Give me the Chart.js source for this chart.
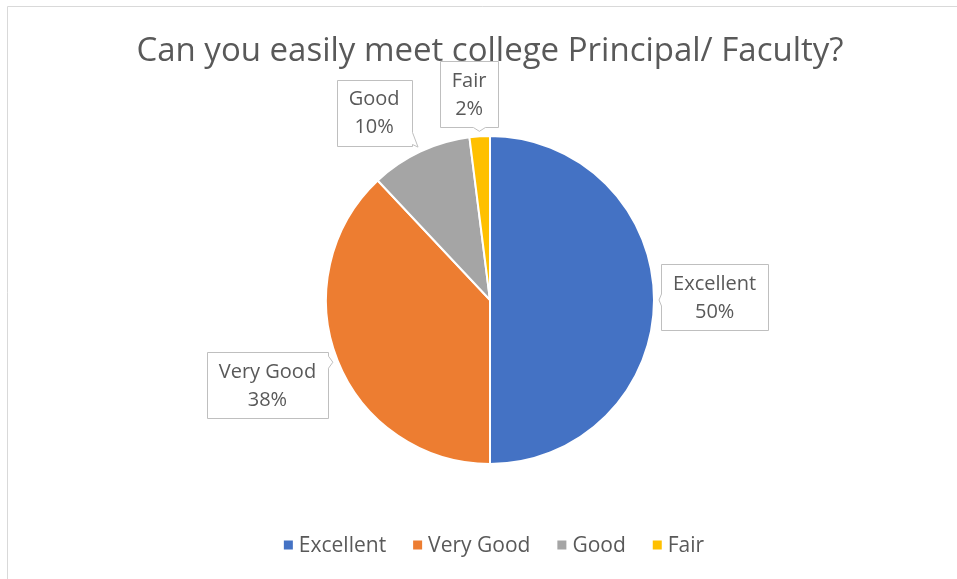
<!DOCTYPE html>
<html>
<head>
<meta charset="utf-8">
<script src="https://cdn.jsdelivr.net/npm/chart.js@4.4.0/dist/chart.umd.min.js"></script>
<style>
  html, body { margin: 0; padding: 0; background: #fff; }
  #wrap { width: 957px; height: 579px; }
</style>
</head>
<body>
<div id="wrap"><canvas id="pieChart" width="957" height="579"></canvas></div>
<script>
const categories = ["Excellent", "Very Good", "Good", "Fair"];
const shares = [50, 38, 10, 2];
const sliceColors = ["#4472C4", "#ED7D31", "#A5A5A5", "#FFC000"];

// where each callout box sits: distance along the slice mid-angle (x radius) and a small nudge
const calloutDist = [1.37, 1.44, 1.33, 1.25];
const calloutShift = [[0, -3], [-3, -2], [-23, 10], [-8, -1]];

const textGray = "#595959";
const fontFamily = "'Open Sans', Lato, sans-serif";

function clamp(v, lo, hi) { return Math.max(lo, Math.min(hi, v)); }

function drawCallout(ctx, b, tip) {
  const half = 6;
  const cx = (b.l + b.r) / 2, cy = (b.t + b.b) / 2;
  const dx = tip.x - cx, dy = tip.y - cy;
  let side;
  if (Math.abs(dx) / (b.r - b.l) > Math.abs(dy) / (b.b - b.t)) side = dx < 0 ? "left" : "right";
  else side = dy < 0 ? "top" : "bottom";

  ctx.beginPath();
  ctx.moveTo(b.l, b.t);
  if (side === "top") {
    const m = clamp(tip.x, b.l + half + 2, b.r - half - 2);
    ctx.lineTo(m - half, b.t); ctx.lineTo(tip.x, tip.y); ctx.lineTo(m + half, b.t);
  }
  ctx.lineTo(b.r, b.t);
  if (side === "right") {
    const m = clamp(tip.y, b.t + half + 2, b.b - half - 2);
    ctx.lineTo(b.r, m - half); ctx.lineTo(tip.x, tip.y); ctx.lineTo(b.r, m + half);
  }
  ctx.lineTo(b.r, b.b);
  if (side === "bottom") {
    const m = clamp(tip.x, b.l + half + 2, b.r - half - 2);
    ctx.lineTo(m + half, b.b); ctx.lineTo(tip.x, tip.y); ctx.lineTo(m - half, b.b);
  }
  ctx.lineTo(b.l, b.b);
  if (side === "left") {
    const m = clamp(tip.y, b.t + half + 2, b.b - half - 2);
    ctx.lineTo(b.l, m + half); ctx.lineTo(tip.x, tip.y); ctx.lineTo(b.l, m - half);
  }
  ctx.closePath();
  ctx.fillStyle = "#ffffff";
  ctx.fill();
  ctx.strokeStyle = "#bfbfbf";
  ctx.lineWidth = 1;
  ctx.stroke();
}

const framePlugin = {
  id: "frame",
  beforeDraw(chart) {
    const ctx = chart.ctx;
    ctx.save();
    ctx.strokeStyle = "#d9d9d9";
    ctx.lineWidth = 1;
    ctx.beginPath();
    ctx.moveTo(7.5, 579);
    ctx.lineTo(7.5, 6.5);
    ctx.lineTo(957, 6.5);
    ctx.stroke();
    ctx.restore();
  }
};

const calloutPlugin = {
  id: "callouts",
  afterDraw(chart) {
    const ctx = chart.ctx;
    const meta = chart.getDatasetMeta(0);
    const total = shares.reduce((a, b) => a + b, 0);
    ctx.save();
    ctx.font = "20px " + fontFamily;
    meta.data.forEach((arc, i) => {
      const p = arc.getProps(["x", "y", "startAngle", "endAngle", "outerRadius"], true);
      const mid = (p.startAngle + p.endAngle) / 2;
      const cx = p.x + Math.cos(mid) * p.outerRadius * calloutDist[i] + calloutShift[i][0];
      const cy = p.y + Math.sin(mid) * p.outerRadius * calloutDist[i] + calloutShift[i][1];
      const lines = [categories[i], Math.round(shares[i] / total * 100) + "%"];
      const w = Math.max(...lines.map(t => ctx.measureText(t).width)) + 24;
      const h = 66;
      const box = { l: Math.round(cx - w / 2) + 0.5, t: Math.round(cy - h / 2) + 0.5, r: Math.round(cx + w / 2) + 0.5, b: Math.round(cy + h / 2) + 0.5 };
      const tip = { x: p.x + Math.cos(mid) * (p.outerRadius + 5), y: p.y + Math.sin(mid) * (p.outerRadius + 5) };
      drawCallout(ctx, box, tip);
      ctx.fillStyle = textGray;
      ctx.textAlign = "center";
      ctx.textBaseline = "middle";
      ctx.fillText(lines[0], cx, cy - 13);
      ctx.fillText(lines[1], cx, cy + 15);
    });
    ctx.restore();
  }
};

const legendPlugin = {
  id: "bottomLegend",
  afterDraw(chart) {
    const ctx = chart.ctx;
    ctx.save();
    ctx.font = "21px " + fontFamily;
    const box = 9, gapText = 6, gapItem = 27;
    const widths = categories.map(c => box + gapText + ctx.measureText(c).width);
    const totalW = widths.reduce((a, b) => a + b, 0) + gapItem * (categories.length - 1);
    let x = 494 - totalW / 2;
    const y = 545;
    ctx.textBaseline = "middle";
    ctx.textAlign = "left";
    categories.forEach((c, i) => {
      ctx.fillStyle = sliceColors[i];
      ctx.fillRect(x, y - box / 2, box, box);
      ctx.fillStyle = textGray;
      ctx.fillText(c, x + box + gapText, y + 1);
      x += widths[i] + gapItem;
    });
    ctx.restore();
  }
};

new Chart(document.getElementById("pieChart").getContext("2d"), {
  type: "pie",
  data: {
    labels: categories,
    datasets: [{
      data: shares,
      backgroundColor: sliceColors,
      borderColor: "#ffffff",
      borderWidth: 2
    }]
  },
  options: {
    responsive: false,
    animation: false,
    layout: { padding: { left: 23, right: 0, top: 0, bottom: 114 } },
    plugins: {
      legend: { display: false },
      tooltip: { enabled: false },
      title: {
        display: true,
        text: "Can you easily meet college Principal/ Faculty?",
        color: textGray,
        font: { family: fontFamily, size: 33, weight: "normal" },
        padding: { top: 32, bottom: 63.4 }
      }
    }
  },
  plugins: [framePlugin, calloutPlugin, legendPlugin]
});
</script>
</body>
</html>
